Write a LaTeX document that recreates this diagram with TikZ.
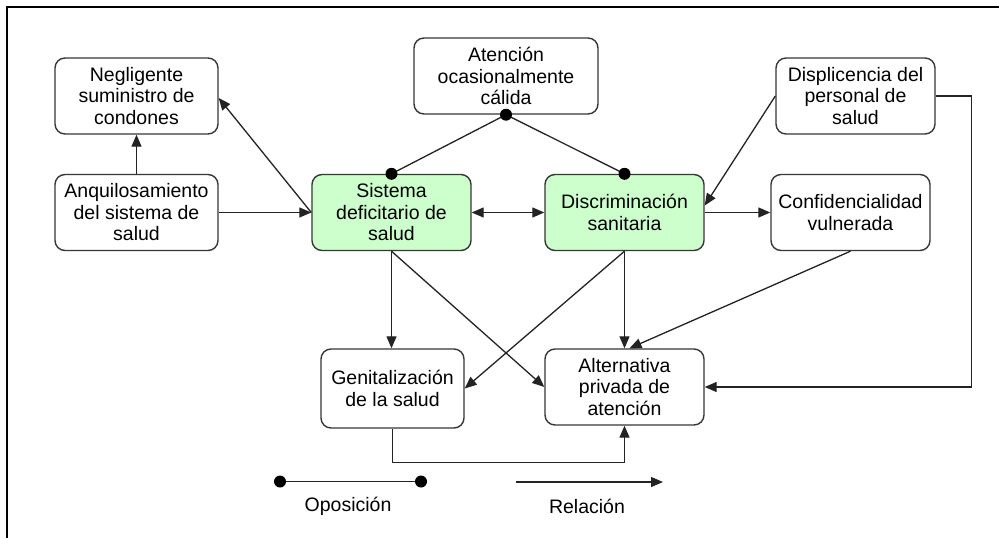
\documentclass[tikz,border=0pt]{standalone}
\usepackage{fontspec}
\setmainfont{Liberation Sans}
\usetikzlibrary{arrows.meta}
\definecolor{boxline}{RGB}{55,55,55}
\definecolor{greenfill}{RGB}{204,255,204}
\definecolor{linec}{RGB}{35,35,35}
\begin{document}
\begin{tikzpicture}[x=1pt,y=-1pt,
  box/.style={draw=boxline, line width=1.4pt, rounded corners=10pt, fill=white,
    minimum width=159pt, minimum height=76pt, inner sep=0pt, align=center,
    font=\fontsize{19.5}{21.5}\selectfont},
  gbox/.style={box, fill=greenfill},
  rel/.style={draw=linec, line width=1.3pt, -{Triangle[length=12pt,width=10pt]}},
  relboth/.style={rel, {Triangle[length=12pt,width=10pt]}-{Triangle[length=12pt,width=10pt]}},
  opp/.style={draw=linec, line width=1.3pt},
  dot/.style={fill=black},
  lbl/.style={font=\fontsize{19.5}{21.5}\selectfont, inner sep=0pt}]
\useasboundingbox (0,0) rectangle (999,538);
\fill[white] (0,0) rectangle (999,538);
\draw[black, line width=1.2pt] (7,538) -- (7,7) -- (999,7);

\node[box, minimum width=163pt] (neg) at (136.5,96) {Negligente\\suministro de\\condones};
\node[box, minimum width=163pt] (anq) at (136.5,212.5) {Anquilosamiento\\del sistema de\\salud};
\node[box, minimum width=184pt] (ate) at (506,76) {Atención\\ocasionalmente\\cálida};
\node[gbox] (sis) at (391.5,212.5) {Sistema\\deficitario de\\salud};
\node[gbox] (dis) at (624.5,212.5) {Discriminación\\sanitaria};
\node[box] (dsp) at (855.5,96) {Displicencia del\\personal de\\salud};
\node[box] (con) at (850.5,212.5) {Confidencialidad\\vulnerada};
\node[box, minimum width=143pt, minimum height=79pt] (gen) at (392.5,388.5) {Genitalización\\de la salud};
\node[box] (alt) at (624.5,387) {Alternativa\\privada de\\atención};

% relations
\draw[rel] (anq.north) -- (neg.south);
\draw[rel] (sis.west) -- ([yshift=-2pt]neg.east);
\draw[rel] (anq.east) -- (sis.west);
\draw[relboth] (sis.east) -- (dis.west);
\draw[rel] (dsp.west) -- ([yshift=7pt]dis.east);
\draw[rel] (dis.east) -- (con.west);
\coordinate (dspr) at ([xshift=36pt]dsp.east);
\draw[rel] (dsp.east) -- (dspr) |- (alt.east);
\draw[rel] (sis.south) -- (sis.south |- gen.north);
\draw[rel] (sis.south) -- (alt.west);
\draw[rel] (dis.south) -- (gen.east);
\draw[rel] (dis.south) -- (alt.north);
\draw[rel] (con.south) -- ([xshift=5pt]alt.north);
\coordinate (genb) at ([yshift=-34pt]gen.south);
\draw[rel] (gen.south) -- (genb) -| (alt.south);

% oppositions
\draw[opp] (ate.south) -- (sis.north);
\draw[opp] (ate.south) -- (dis.north);
\fill[dot] (ate.south) circle (6pt);
\fill[dot] (sis.north) circle (6pt);
\fill[dot] (dis.north) circle (6pt);

% legend
\coordinate (oa) at (280,481.5);
\coordinate (ob) at (421,481.5);
\draw[opp] (oa) -- (ob);
\fill[dot] (oa) circle (6pt);
\fill[dot] (ob) circle (6pt);
\node[lbl] (oplbl) at (348,506) {Oposición};
\coordinate (ra) at (516,482);
\coordinate (rb) at (663,482);
\draw[rel] (ra) -- (rb);
\node[lbl] (rellbl) at (587,506) {Relación};
\end{tikzpicture}
\end{document}
